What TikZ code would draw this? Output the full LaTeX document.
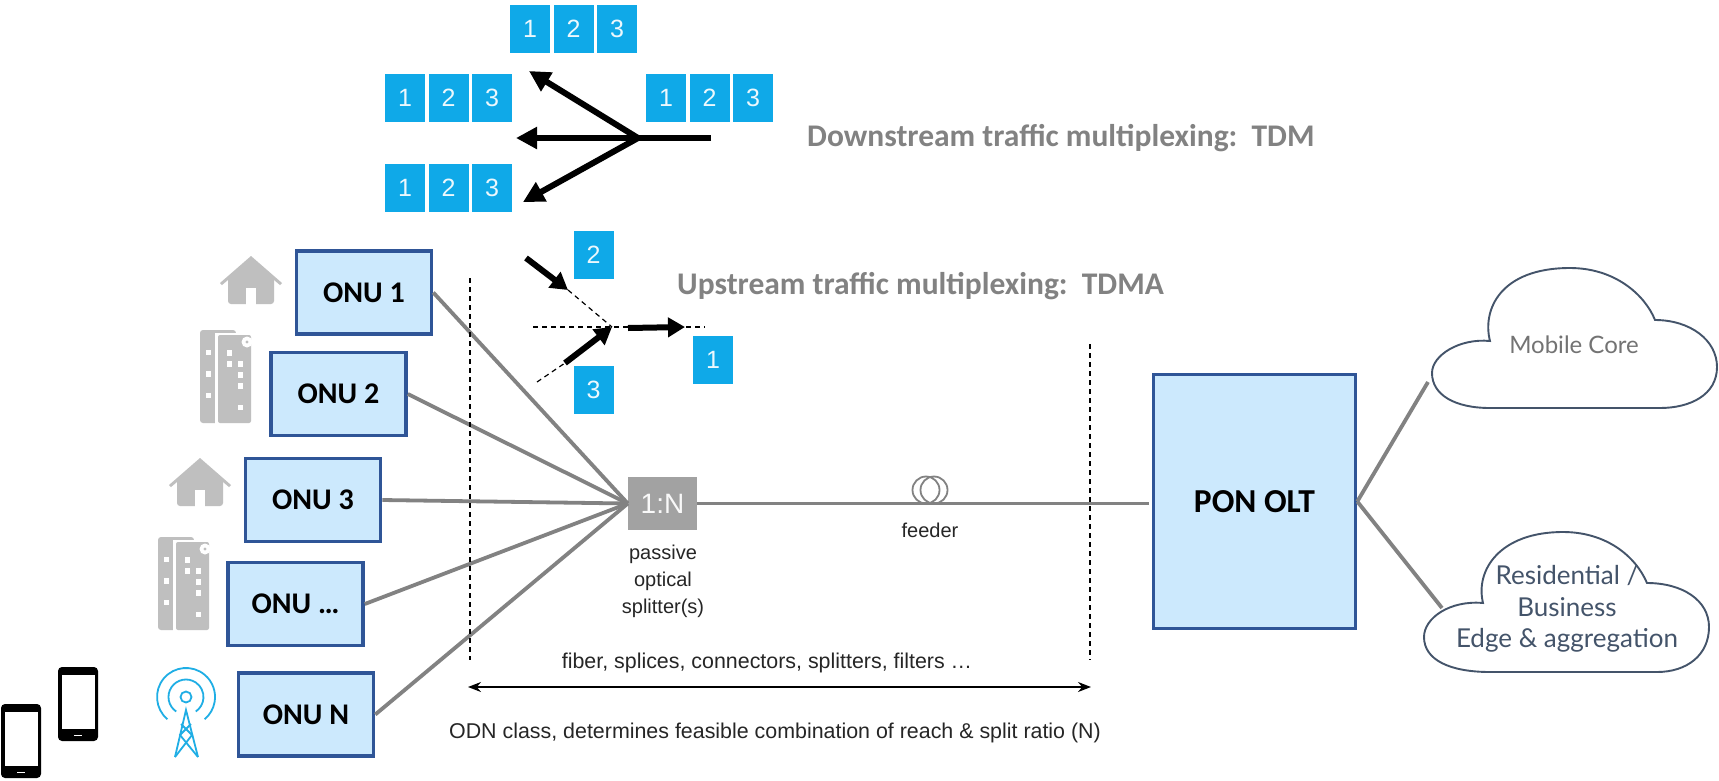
\documentclass[tikz,border=0pt]{standalone}
\usepackage{fontspec}
\setmainfont{Liberation Sans}
\newfontfamily\calib{Carlito}
\newfontfamily\cloudf{Lato}
\usetikzlibrary{arrows.meta}
\definecolor{pktblue}{HTML}{0FA9E8}
\definecolor{onufill}{HTML}{CCE9FD}
\definecolor{onuedge}{HTML}{2F5597}
\definecolor{fibre}{HTML}{828282}
\definecolor{icongrey}{HTML}{BFBFBF}
\definecolor{cloudedge}{HTML}{44546A}
\definecolor{towerblue}{HTML}{1FAEE5}
\tikzset{
  x=1pt,y=-1pt,
  onubox/.style={draw=onuedge,line width=3.6pt,fill=onufill,inner sep=0pt,minimum width=135pt,minimum height=83pt,
    font=\calib\bfseries\fontsize{30}{34}\selectfont,text=black},
  oltbox/.style={onubox,minimum width=202pt,minimum height=254pt,font=\calib\bfseries\fontsize{33.5}{38}\selectfont},
  pkt/.style={fill=pktblue,inner sep=0pt,minimum width=40pt,minimum height=48pt,text=white!92!pktblue,
    font=\fontsize{25}{28}\selectfont},
  fibreline/.style={draw=fibre,line width=3.8pt},
  fat/.style={line width=6pt,-{Triangle[length=21pt,width=21pt]}},
  med/.style={line width=6pt,-{Triangle[length=17pt,width=19pt]}},
  thindash/.style={draw=black,line width=1.2pt,dash pattern=on 5pt off 4pt},
  heading/.style={inner sep=0pt,text=fibre,font=\calib\bfseries\fontsize{31.5}{36}\selectfont},
  label/.style={inner sep=0pt,text=black!85,font=\fontsize{20}{27}\selectfont,align=center},
  wide/.style={label,font=\fontsize{21.4}{27}\selectfont},
  cloudshape/.style={draw=cloudedge,line width=1.9pt,fill=white},
  cloudtext/.style={inner sep=0pt,align=center,font=\cloudf},
  pics/houseicon/.style={code={
    \fill[icongrey,line join=round] (0,0) -- (31,27) -- (29,29) -- (23,24) -- (-23,24) -- (-29,29) -- (-31,27) -- cycle;
    \fill[icongrey,rounded corners=3pt] (-23,20) rectangle (23,48);
    \fill[white] (-5,32) rectangle (5,49);
  }},
  pics/blockicon/.style={code={
    \fill[icongrey,rounded corners=3pt] (0,0) rectangle (36,93);
    \fill[white] (15,3) rectangle (54,94);
    \fill[icongrey,rounded corners=2pt] (18,5) rectangle (51,93);
    \fill[white] (47,12) circle (5.5);
    \fill[icongrey] (47,12) circle (1.6);
    \fill[white] (5.5,19.5) rectangle +(5,5.5);
    \fill[white] (5.5,41) rectangle +(5,5.5);
    \fill[white] (5.5,62.5) rectangle +(5,5.5);
    \foreach \wx/\wy in {26.5/20,26.5/31,37.5/31,37.5/42,37.5/53,37.5/74.5}
      \fill[white] (\wx,\wy) rectangle +(5,5.5);
  }},
  pics/phoneicon/.style={code={
    \fill[black,rounded corners=4pt] (0,0) rectangle (40,74);
    \fill[white] (3.5,8) rectangle (36.5,62);
    \fill[white] (16,67.5) rectangle (24,69);
  }},
}
\begin{document}
\begin{tikzpicture}
\useasboundingbox[fill=white] (0,0) rectangle (1719,780);

% downstream packets
\foreach \nm/\bx/\by in {t/510/29,l/385/97.5,r/646/97.5,b/385/187.5}{
  \node[pkt] (\nm1) at (\bx+20,\by) {1};
  \node[pkt] (\nm2) at (\bx+63.5,\by) {2};
  \node[pkt] (\nm3) at (\bx+107,\by) {3};
}
\coordinate (fan) at (638,138);
\coordinate (fanin) at (711,138);
\coordinate (fantop) at (529,71);
\coordinate (fanmid) at (516,138);
\coordinate (fanlow) at (523,202);
\draw[line width=6pt] (fanin) -- (fan);
\draw[fat] (fan) -- (fantop);
\draw[fat] (fan) -- (fanmid);
\draw[fat] (fan) -- (fanlow);
\node[heading,anchor=west] (dshead) at (807,138) {Downstream traffic multiplexing:\ \ TDM};

% upstream packets
\node[pkt] (up2) at (593.5,255) {2};
\node[pkt] (up3) at (593.5,390) {3};
\node[pkt] (up1) at (713,360) {1};
\coordinate (hl) at (533,327);
\coordinate (hr) at (705,327);
\coordinate (mg) at (612,327);
\coordinate (a2s) at (526,258);
\coordinate (a2e) at (568,290);
\coordinate (a3s) at (565,363);
\coordinate (a3f) at (537,382);
\coordinate (a1s) at (628,328);
\coordinate (a1e) at (685,327);
\draw[thindash] (hl) -- (hr);
\draw[thindash] (a2e) -- (mg);
\draw[thindash] (a3f) -- (a3s);
\draw[med] (a2s) -- (a2e);
\draw[med] (a3s) -- (mg);
\draw[med] (a1s) -- (a1e);
\node[heading,anchor=west] (ushead) at (677,286) {Upstream traffic multiplexing:\ \ TDMA};

% ONUs
\node[onubox] (onu1) at (364,292.5) {ONU 1};
\node[onubox] (onu2) at (338.5,394) {ONU 2};
\node[onubox] (onu3) at (313,500) {ONU 3};
\node[onubox] (onu4) at (295.5,604) {ONU \ldots};
\node[onubox] (onu5) at (306,714.5) {ONU N};

% splitter and OLT
\node[fill=icongrey!85!black,inner sep=0pt,minimum width=69pt,minimum height=53pt,text=white!90!icongrey,font=\fontsize{28}{30}\selectfont] (split) at (662.5,503.5) {1:N};
\node[oltbox] (olt) at (1254.5,501.5) {PON OLT};
\foreach \o in {onu1,onu2,onu3,onu4,onu5}
  \draw[fibreline] (\o.east) -- (split.west);
\draw[fibreline,shorten >=3pt] (split.east) -- (split.east -| olt.west);
\draw[draw=fibre,line width=1.8pt] (926,490) circle (13.5) (934,490) circle (13.5);
\node[label] (feederlbl) at (930,530) {feeder};
\node[label] (splitlbl) at (663,581) {passive\\optical\\splitter(s)};

% ODN span
\coordinate (v1t) at (470,278);
\coordinate (v1b) at (470,660);
\coordinate (v2t) at (1090,344);
\coordinate (v2b) at (1090,660);
\coordinate (spanl) at (468,687);
\coordinate (spanr) at (1091,687);
\draw[thindash] (v1t) -- (v1b);
\draw[thindash] (v2t) -- (v2b);
\draw[line width=1.6pt,{Stealth[length=13pt,width=10pt]}-{Stealth[length=13pt,width=10pt]}] (spanl) -- (spanr);
\node[wide] (odn1) at (767,663) {fiber, splices, connectors, splitters, filters \ldots};
\node[wide] (odn2) at (775,733) {ODN class, determines feasible combination of reach \& split ratio (N)};

% clouds
\draw[cloudshape] (1490,341) .. controls (1482,310) and (1500,268) .. (1570,268)
  .. controls (1615,268) and (1645,295) .. (1655,320)
  .. controls (1690,320) and (1717,340) .. (1717,367)
  .. controls (1717,395) and (1690,408) .. (1660,408)
  -- (1490,408) .. controls (1455,408) and (1432,395) .. (1432,373)
  .. controls (1432,355) and (1460,338) .. (1490,341) -- cycle;
\draw[cloudshape] (1483,603) .. controls (1475,570) and (1500,532) .. (1563,532)
  .. controls (1605,532) and (1635,555) .. (1647,583)
  .. controls (1682,583) and (1709,600) .. (1709,627)
  .. controls (1709,655) and (1687,672) .. (1657,672)
  -- (1490,672) .. controls (1450,672) and (1424,660) .. (1424,637)
  .. controls (1424,618) and (1450,600) .. (1483,603) -- cycle;
\node[cloudtext,text=black!55,font=\cloudf\fontsize{24}{28}\selectfont] (core) at (1574,344.5) {Mobile Core};
\node[cloudtext,text=cloudedge,font=\cloudf\fontsize{26}{31.5}\selectfont] (edge) at (1567,609) {Residential /\\Business\\Edge \& aggregation};
\coordinate (corein) at (1428,382);
\coordinate (edgein) at (1442,608);
\draw[fibreline] (olt.east) -- (corein);
\draw[fibreline] (olt.east) -- (edgein);

% icons
\pic at (251,256) {houseicon};
\pic at (200,458) {houseicon};
\pic at (200,330) {blockicon};
\pic at (158,537) {blockicon};
\pic at (58,667) {phoneicon};
\pic at (1,704) {phoneicon};

% antenna
\begin{scope}[draw=towerblue,line width=1.8pt]
  \draw (186,697) circle (5.5);
  \draw (176.2,711.5) arc[start angle=124,end angle=416,radius=17.5];
  \draw (167.4,719.2) arc[start angle=130,end angle=410,radius=29];
  \draw (175,757) -- (186,710) -- (198,757);
  \draw (175,757) -- (192,735) -- (181,724);
  \draw (198,757) -- (180,735) -- (191,724);
\end{scope}
\end{tikzpicture}
\end{document}
